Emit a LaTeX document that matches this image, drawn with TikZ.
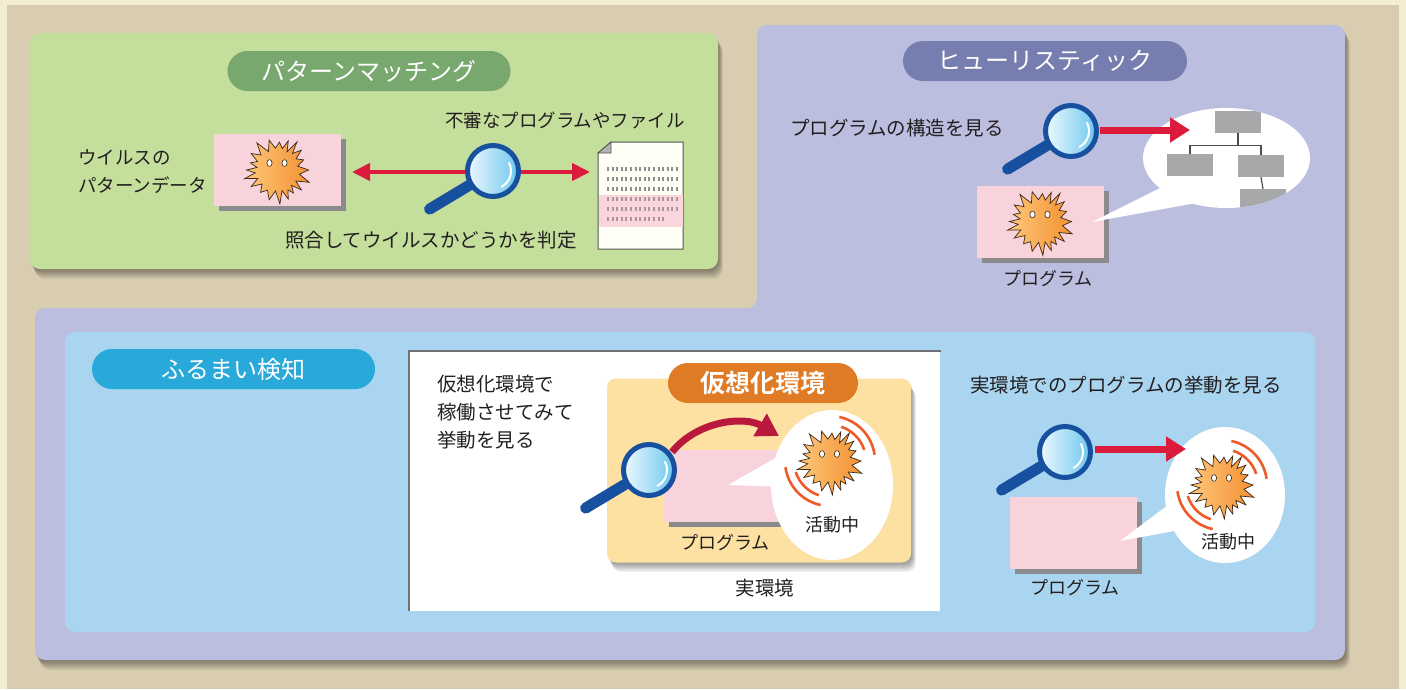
\documentclass[tikz,border=0pt]{standalone}
\usepackage{fontspec}
\newfontfamily\jp{Noto Sans CJK JP}[BoldFont={Noto Sans CJK JP Bold}]
\usetikzlibrary{arrows.meta,shadows,shapes.geometric}
\newcommand\jpsize[1]{\fontsize{#1}{#1}\selectfont}
% soft shadow: the same outline stacked a few times, slightly shifted
\newcommand\softshadow[1]{%
  \foreach \i in {1,...,9}{\fill[black, opacity=0.05, shift={(\i*0.55,\i*1.1)}] #1;}}

\definecolor{cream}{HTML}{F3EDD3}
\definecolor{tan}{HTML}{D9CDB1}
\definecolor{greenpanel}{HTML}{C4DE9C}
\definecolor{greenpill}{HTML}{78A86E}
\definecolor{purplepanel}{HTML}{BBBEDF}
\definecolor{purplepill}{HTML}{767DAF}
\definecolor{lightblue}{HTML}{A9D5F0}
\definecolor{bluepill}{HTML}{29A9D9}
\definecolor{orangebox}{HTML}{FDE1A3}
\definecolor{orangepill}{HTML}{E07B25}
\definecolor{progpink}{HTML}{F8D3DB}
\definecolor{progshadow}{HTML}{8B8B8D}
\definecolor{arrowred}{HTML}{DC1A3C}
\definecolor{curvered}{HTML}{B8193C}
\definecolor{magblue}{HTML}{17509F}
\definecolor{lensA}{HTML}{EEF9FE}
\definecolor{lensB}{HTML}{6CC6EE}
\definecolor{virA}{HTML}{FFC77A}
\definecolor{virB}{HTML}{F29132}
\definecolor{virline}{HTML}{3A2A1A}
\definecolor{wavec}{HTML}{F05A28}
\definecolor{treegray}{HTML}{A7A8AA}
\definecolor{treeline}{HTML}{4D4D4F}
\definecolor{textc}{HTML}{231F20}
\definecolor{boxgray}{HTML}{707072}
\definecolor{docfill}{HTML}{FFFFF6}
\definecolor{docline}{HTML}{555555}
\definecolor{bandpink}{HTML}{FAD5DB}
\definecolor{dashgray}{HTML}{8E8E90}
\definecolor{dashpink}{HTML}{A9959A}

\tikzset{
  txt/.style={font=\jp\jpsize{19.5}, text=textc, inner sep=0pt},
  smalltxt/.style={font=\jp\jpsize{18}, text=textc, inner sep=0pt},
  pill/.style={rounded corners=20pt, minimum height=40pt, text=white,
    font=\jp\jpsize{24}, inner sep=0pt},
  progbox/.style={fill=progpink, minimum width=127pt, minimum height=72pt,
    inner sep=0pt, drop shadow={shadow xshift=5pt, shadow yshift=-5pt,
    fill=progshadow, opacity=1}},
  redarrow/.style={draw=arrowred, line width=7pt,
    -{Triangle[length=20pt,width=24pt]}},
  treebox/.style={fill=treegray, minimum width=46pt, minimum height=22pt,
    inner sep=0pt},
  bubble/.style={ellipse, fill=white, inner sep=0pt},
  dashrow/.style={line width=3.5pt, dash pattern=on 2pt off 2.6pt},
  magnifier/.pic={
    \draw[magblue, line width=11pt, line cap=round] (149:27) -- (149:74);
    \shade[left color=lensA, right color=lensB] (0,0) circle (25.5);
    \draw[magblue, line width=5pt] (0,0) circle (25.5);
    \draw[white, line width=2pt, line cap=round] (-27:18) arc (-27:62:18);
  },
  virus/.pic={
    \shadedraw[draw=virline, line width=0.7pt, left color=virA, right color=virB,
      line join=miter]
      plot[variable=\t, samples at={0,9,...,351}]
      ({\t+4*sin(3*\t)}:{(mod(round(\t/9),2)==0) ? (31+3*sin(5*\t)) : (21.5+sin(7*\t))}) -- cycle;
    \draw[fill=white, draw=virline, line width=0.6pt] (-8,-7) ellipse (2.6 and 3.4);
    \draw[fill=white, draw=virline, line width=0.6pt] (7,-7) ellipse (2.6 and 3.4);
  },
  waves/.pic={
    \draw[wavec, line width=2.6pt] (-72:36) arc (-72:-18:36);
    \draw[wavec, line width=2.6pt] (-78:45) arc (-78:-8:45);
    \draw[wavec, line width=2.6pt] (108:36) arc (108:162:36);
    \draw[wavec, line width=2.6pt] (102:45) arc (102:172:45);
  }
}

\begin{document}
\begin{tikzpicture}[x=1pt, y=-1pt]
\useasboundingbox (0,0) rectangle (1406,689);

% backdrop
\fill[cream] (0,0) rectangle (1406,689);
\fill[tan] (7,5) rectangle (1399,689);

% panels
\softshadow{[rounded corners=10pt] (30,33) rectangle (718,269)}
\fill[greenpanel, rounded corners=10pt] (30,33) rectangle (718,269);
\softshadow{[rounded corners=10pt] (35,660) -- (35,308) -- (757,308) -- (757,25) -- (1345,25) -- (1345,660) -- cycle}
\fill[purplepanel, rounded corners=10pt]
  (35,660) -- (35,308) -- (757,308) -- (757,25) -- (1345,25) -- (1345,660) -- cycle;
\fill[lightblue, rounded corners=10pt] (65,332) rectangle (1315,632);

% ---------- pattern matching ----------
\node[pill, fill=greenpill, minimum width=283pt] (pmtitle) at (369,71) {パターンマッチング};
\node[txt, anchor=west, align=left, font=\jp\fontsize{18.5}{28}\selectfont]
  (pattxt) at (78,172) {ウイルスの\\パターンデータ};
\node[progbox] (pmprog) at (277.5,170) {};
\pic at (pmprog.center) {virus};

% suspicious file
\fill[docfill, draw=docline, line width=1pt]
  (611,142) -- (683,142) -- (683,249) -- (598,249) -- (598,153) -- cycle;
\fill[bandpink] (598.5,195) rectangle (682.5,227);
\fill[lightgray!80!gray, draw=docline, line width=0.8pt] (598,153) -- (611,142) -- (611,153) -- cycle;
\foreach \yy in {169,179,189}
  \draw[dashgray, dashrow] (607,\yy) -- (679,\yy);
\draw[dashpink, dashrow] (607,199) -- (679,199);
\draw[dashpink, dashrow] (607,209) -- (679,209);
\draw[dashpink, dashrow] (607,219) -- (665,219);
\coordinate (docin) at (590,172);
\coordinate (patout) at (352,172);
\draw[draw=arrowred, line width=4pt, {Triangle[length=18pt,width=17pt]}-{Triangle[length=18pt,width=17pt]}]
  (patout) -- (docin);
\pic at (493,171) {magnifier};
\node[txt, font=\jp\jpsize{18.5}] (filetxt) at (565,120) {不審なプログラムやファイル};
\node[txt] (judgetxt) at (431,240) {照合してウイルスかどうかを判定};

% ---------- heuristic ----------
\node[pill, fill=purplepill, minimum width=284pt] (hetitle) at (1045,61) {ヒューリスティック};
\node[txt] (structtxt) at (897,128) {プログラムの構造を見る};
\node[progbox] (heprog) at (1040.5,221.5) {};
\pic at (heprog.center) {virus};
\node[smalltxt] (heproglbl) at (1048,279) {プログラム};
% speech bubble with the structure tree
\node[bubble, minimum width=167pt, minimum height=100pt] (hebub) at (1226.5,158) {};
\fill[white] (1160,188) -- (1196,203) -- (1092,222) -- cycle;
\begin{scope}
  \clip (1226.5,158) ellipse (83.5 and 50);
  \node[treebox] (troot) at (1238,122) {};
  \node[treebox] (tleft) at (1190,165) {};
  \node[treebox] (tright) at (1261,166) {};
  \node[treebox, anchor=north] (tlow) at (1263,189) {};
  \draw[treeline, line width=1.2pt] (troot.south) -- ++(0,12) -| (tleft.north);
  \draw[treeline, line width=1.2pt] (troot.south) ++(0,12) -| (tright.north);
  \draw[treeline, line width=1.2pt] (tright.south) -- (tlow.north);
\end{scope}
\coordinate (hestart) at (1100,130);
\coordinate (heend) at (1190,130);
\draw[redarrow] (hestart) -- (heend);
\pic at (1071,131) {magnifier};

% ---------- behaviour detection ----------
\node[pill, fill=bluepill, minimum width=283pt] (bdtitle) at (233.5,369) {ふるまい検知};

% sandbox on the real machine
\fill[white] (409,351) rectangle (940,611);
\draw[boxgray, line width=2.5pt] (409,611) -- (409,351) -- (941,351);
\node[txt, anchor=west, align=left, font=\jp\fontsize{19.5}{28}\selectfont]
  (vmtxt) at (437,412) {仮想化環境で\\稼働させてみて\\挙動を見る};
\node[txt] (realtxt) at (765,588) {実環境};
\softshadow{[rounded corners=9pt] (607,379) rectangle (911,562)}
\node[fill=orangebox, rounded corners=9pt, minimum width=304pt, minimum height=184pt,
  inner sep=0pt] (venv) at (759,470.5) {};
\node[pill, fill=orangepill, minimum width=190pt, minimum height=40pt,
  font=\jp\bfseries\jpsize{25}] (vmtitle) at (763,383) {仮想化環境};
\node[progbox] (vmprog) at (727,485.5) {};
\node[smalltxt] (vmproglbl) at (725,543) {プログラム};
\node[bubble, minimum width=122pt, minimum height=150pt] (vmbub) at (832,485) {};
\fill[white] (728,485) -- (786,452) -- (786,487) -- cycle;
\pic at (830,461) {virus};
\pic at (830,461) {waves};
\node[smalltxt] (vmact) at (832,525) {活動中};
\coordinate (cvstart) at (672,452);
\coordinate (cvend) at (779,436);
\draw[curvered, line width=7pt, -{Triangle[length=22pt,width=25pt]}]
  (cvstart) .. controls (698,420) and (745,416) .. (cvend);
\pic at (649,470) {magnifier};

% observed on the real machine
\node[txt] (rtxt) at (1126,385) {実環境でのプログラムの挙動を見る};
\node[progbox] (rprog) at (1073.5,533) {};
\node[smalltxt] (rproglbl) at (1075,588) {プログラム};
\node[bubble, minimum width=120pt, minimum height=136pt] (rbub) at (1225,495) {};
\fill[white] (1120,541) -- (1172,502) -- (1180,530) -- cycle;
\pic at (1222,485) {virus};
\pic at (1222,485) {waves};
\node[smalltxt] (ract) at (1228,542) {活動中};
\coordinate (rstart) at (1095,449);
\coordinate (rend) at (1186,449);
\draw[redarrow] (rstart) -- (rend);
\pic at (1065,452) {magnifier};

\end{tikzpicture}
\end{document}
